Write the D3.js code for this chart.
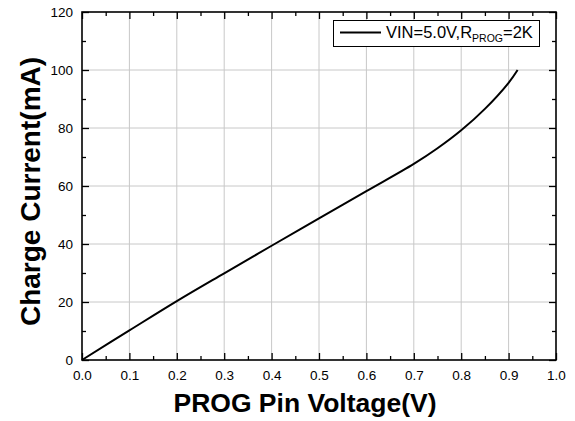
<!DOCTYPE html>
<html><head><meta charset="utf-8">
<script src="https://cdn.jsdelivr.net/npm/d3@7"></script>
<style>body{margin:0;background:#fff}svg{display:block}text{font-family:"Liberation Sans",Arial,sans-serif}</style>
</head><body>
<svg id="c" width="575" height="421"></svg>
<script>
const voltage = [0, 0.1, 0.2, 0.3, 0.4, 0.5, 0.6, 0.7, 0.75, 0.8, 0.85, 0.9, 0.919];
const current = [0, 10.2, 20.3, 29.9, 39.4, 48.8, 58.2, 67.6, 73.0, 79.2, 86.6, 95.6, 100];
const xTicks = [0, 0.1, 0.2, 0.3, 0.4, 0.5, 0.6, 0.7, 0.8, 0.9, 1.0];
const yTicks = [0, 20, 40, 60, 80, 100, 120];
const xTitle = "PROG Pin Voltage(V)";
const yTitle = "Charge Current(mA)";

const svg = d3.select("#c");
const m = {l: 82, r: 556, t: 12, b: 360};
const x = d3.scaleLinear().domain([0, 1]).range([m.l, m.r]);
const y = d3.scaleLinear().domain([0, 120]).range([m.b, m.t]);

// grid
svg.append("g").selectAll("line").data(xTicks.slice(1, -1)).join("line")
  .attr("x1", d => x(d)).attr("x2", d => x(d)).attr("y1", m.t).attr("y2", m.b)
  .attr("stroke", "#c8c8c8").attr("stroke-width", 1);
svg.append("g").selectAll("line").data(yTicks.slice(1, -1)).join("line")
  .attr("y1", d => y(d)).attr("y2", d => y(d)).attr("x1", m.l).attr("x2", m.r)
  .attr("stroke", "#c8c8c8").attr("stroke-width", 1);

const xMinor = d3.range(0.05, 1, 0.1);
const yMinor = d3.range(10, 120, 20);
function styleAxis(g){ g.select(".domain").remove(); g.selectAll("line").attr("stroke","#000").attr("stroke-width",1.3); g.selectAll("text").attr("font-size",13.5).attr("fill","#000"); }

// bottom
svg.append("g").attr("transform", `translate(0,${m.b})`)
  .call(d3.axisBottom(x).tickValues(xTicks).tickFormat(d3.format(".1f")).tickSizeInner(-7).tickSizeOuter(0).tickPadding(10))
  .call(styleAxis);
svg.append("g").attr("transform", `translate(0,${m.b})`)
  .call(d3.axisBottom(x).tickValues(xMinor).tickFormat("").tickSizeInner(-4).tickSizeOuter(0)).call(styleAxis);
// top
svg.append("g").attr("transform", `translate(0,${m.t})`)
  .call(d3.axisTop(x).tickValues(xTicks).tickFormat("").tickSizeInner(-7).tickSizeOuter(0)).call(styleAxis);
svg.append("g").attr("transform", `translate(0,${m.t})`)
  .call(d3.axisTop(x).tickValues(xMinor).tickFormat("").tickSizeInner(-4).tickSizeOuter(0)).call(styleAxis);
// left
svg.append("g").attr("transform", `translate(${m.l},0)`)
  .call(d3.axisLeft(y).tickValues(yTicks).tickFormat(d3.format("d")).tickSizeInner(-7).tickSizeOuter(0).tickPadding(9))
  .call(styleAxis);
svg.append("g").attr("transform", `translate(${m.l},0)`)
  .call(d3.axisLeft(y).tickValues(yMinor).tickFormat("").tickSizeInner(-4).tickSizeOuter(0)).call(styleAxis);
// right
svg.append("g").attr("transform", `translate(${m.r},0)`)
  .call(d3.axisRight(y).tickValues(yTicks).tickFormat("").tickSizeInner(-7).tickSizeOuter(0)).call(styleAxis);
svg.append("g").attr("transform", `translate(${m.r},0)`)
  .call(d3.axisRight(y).tickValues(yMinor).tickFormat("").tickSizeInner(-4).tickSizeOuter(0)).call(styleAxis);

// frame
svg.append("rect").attr("x", m.l).attr("y", m.t).attr("width", m.r - m.l).attr("height", m.b - m.t)
  .attr("fill", "none").attr("stroke", "#000").attr("stroke-width", 1.6);

// curve
const data = voltage.map((v, i) => [v, current[i]]);
svg.append("path").datum(data)
  .attr("d", d3.line().x(d => x(d[0])).y(d => y(d[1])).curve(d3.curveCatmullRom.alpha(0.5)))
  .attr("fill", "none").attr("stroke", "#000").attr("stroke-width", 2);

// legend
const lg = svg.append("g");
lg.append("rect").attr("x", 333.5).attr("y", 20.5).attr("width", 206).attr("height", 26)
  .attr("fill", "#fff").attr("stroke", "#000").attr("stroke-width", 1);
lg.append("line").attr("x1", 340).attr("x2", 381).attr("y1", 32.5).attr("y2", 32.5)
  .attr("stroke", "#000").attr("stroke-width", 2);
const lt = lg.append("text").attr("x", 386).attr("y", 38).attr("font-size", 16.5).attr("fill", "#000");
lt.append("tspan").text("VIN=5.0V,R");
lt.append("tspan").attr("font-size", 10.5).attr("dy", 3.5).text("PROG");
lt.append("tspan").attr("dy", -3.5).text("=2K");

// titles
svg.append("text").attr("x", 305).attr("y", 411.5).attr("text-anchor", "middle")
  .attr("font-size", 26.5).attr("font-weight", "bold").attr("fill", "#000").text(xTitle);
svg.append("text").attr("transform", `translate(40,191.5) rotate(-90)`).attr("text-anchor", "middle")
  .attr("font-size", 28).attr("font-weight", "bold").attr("fill", "#000").text(yTitle);
</script>
</body></html>
